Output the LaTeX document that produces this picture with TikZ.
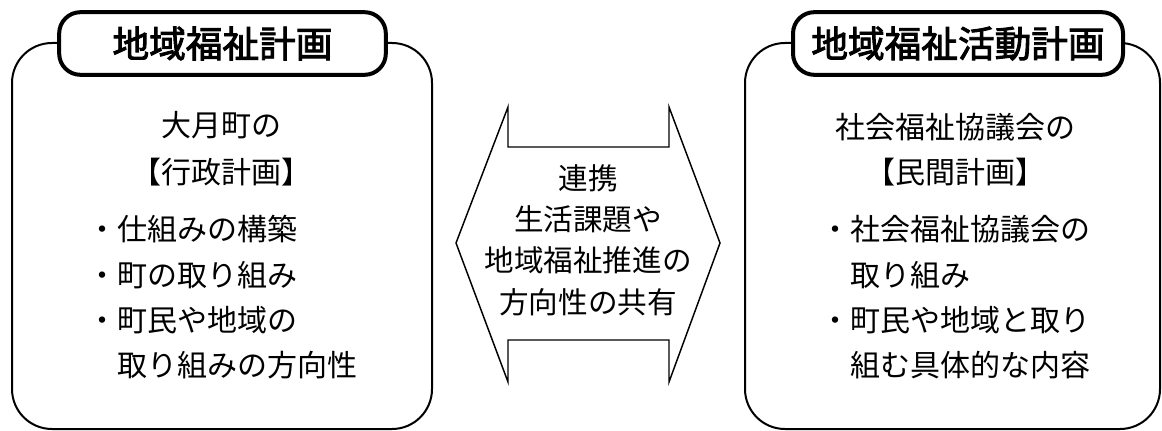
\documentclass[tikz,border=0pt]{standalone}
\usepackage{fontspec}
\setmainfont{Noto Sans CJK JP}
\newfontfamily\titlefont[FakeBold=2.5]{Noto Sans CJK JP}

\begin{document}
\begin{tikzpicture}[x=0.75pt,y=-0.75pt,
  outer/.style={draw,line width=1.5pt,rounded corners=30pt,minimum height=289.5pt},
  title/.style={draw,line width=3pt,rounded corners=16pt,fill=white,minimum height=47pt,
    font=\titlefont\fontsize{27.5pt}{27.5pt}\selectfont},
  body/.style={inner sep=0pt,font=\fontsize{22.5pt}{34pt}\selectfont}]
\useasboundingbox (0,0) rectangle (1162,431);
% the two plans
\node[outer,minimum width=315pt] (gyosei) at (222,236) {};
\node[outer,minimum width=311.25pt] (minkan) at (952.5,236) {};
\node[title,minimum width=245pt] (chiiki) at (222.5,43.5) {地域福祉計画};
\node[title,minimum width=247.5pt] (katsudo) at (958,43.5) {地域福祉活動計画};
% left plan
\node[body,align=center,font=\fontsize{22.5pt}{35pt}\selectfont] (town) at (221,148.5) {大月町の\\【行政計画】};
\node[body,align=left,anchor=west] (townlist) at (87,297.5)
  {・仕組みの構築\\・町の取り組み\\・町民や地域の\\　取り組みの方向性};
% right plan
\node[body,align=center] (council) at (955,149.5) {社会福祉協議会の\\【民間計画】};
\node[body,align=left,anchor=west] (councillist) at (820,297.5)
  {・社会福祉協議会の\\　取り組み\\・町民や地域と取り\\　組む具体的な内容};
% double arrow in the middle
\draw[line width=1.1pt] (508,107) -- (508,147) -- (669,147) -- (669,107) -- (720,243)
  -- (669,382) -- (669,340) -- (508,340) -- (508,382) -- (456,243) -- cycle;
\node[body,align=center,font=\fontsize{22.2pt}{31pt}\selectfont] (renkei) at (588,240)
  {連携\\生活課題や\\地域福祉推進の\\方向性の共有};
\end{tikzpicture}
\end{document}
